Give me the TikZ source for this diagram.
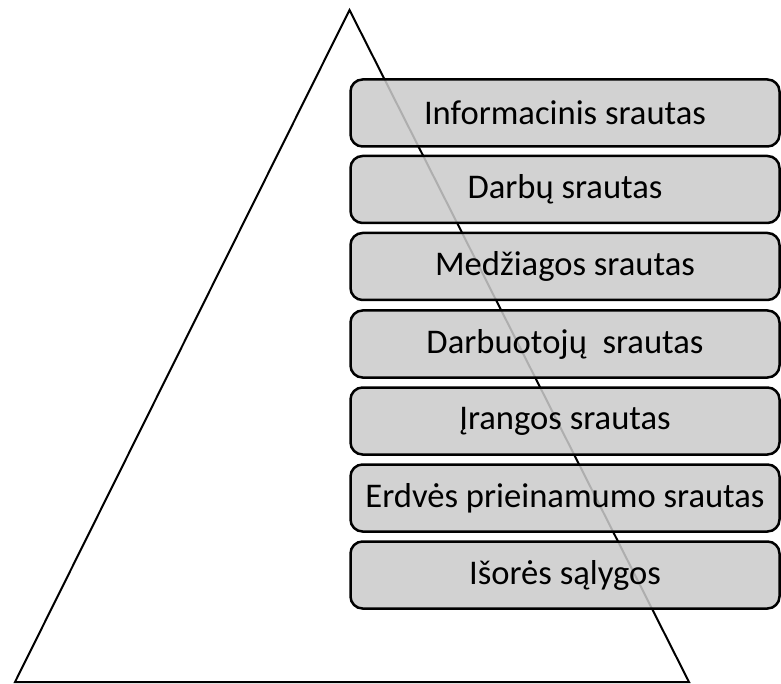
\documentclass[tikz,border=0pt]{standalone}
\usepackage{fontspec}
\setmainfont{Carlito}
\begin{document}
\begin{tikzpicture}[x=1pt,y=-1pt,
  flowbox/.style={draw=black, line width=2.5pt, rounded corners=12pt,
    fill={rgb,255:red,203;green,203;blue,203}, fill opacity=0.86, text opacity=1,
    minimum width=429pt, minimum height=67pt, inner sep=0pt,
    font=\fontsize{34.6}{40}\selectfont},
  tri/.style={draw=black, line width=2pt, line join=miter}]
\useasboundingbox (0,0) rectangle (781,684);
\coordinate (apex) at (349.5,10);
\coordinate (bl) at (15,682);
\coordinate (br) at (689,682);
\draw[tri] (apex) -- (br) -- (bl) -- cycle;
\node[flowbox] (b1) at (565,113) {Informacinis srautas};
\node[flowbox] (b2) at (565,189.5) {Darbų srautas};
\node[flowbox] (b3) at (565,266.5) {Medžiagos srautas};
\node[flowbox] (b4) at (565,344) {Darbuotojų\ \ srautas};
\node[flowbox] (b5) at (565,421) {Įrangos srautas};
\node[flowbox] (b6) at (565,498) {Erdvės prieinamumo srautas};
\node[flowbox] (b7) at (565,575) {Išorės sąlygos};
\end{tikzpicture}
\end{document}
